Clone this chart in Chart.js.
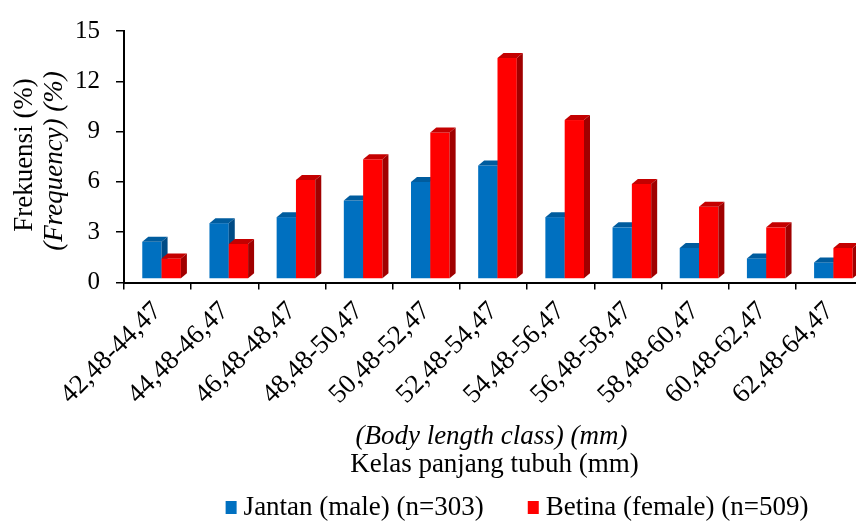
<!DOCTYPE html>
<html>
<head>
<meta charset="utf-8">
<script src="https://cdn.jsdelivr.net/npm/chart.js@4.4.0/dist/chart.umd.min.js"></script>
<style>
  html, body { margin: 0; padding: 0; background: #fff; overflow: hidden; }
  #wrap { width: 866px; height: 525px; }
</style>
</head>
<body>
<div id="wrap"><canvas id="myChart"></canvas></div>
<script>
// classes de longueur (mm)
var kelas = ['42,48-44,47', '44,48-46,47', '46,48-48,47', '48,48-50,47', '50,48-52,47',
             '52,48-54,47', '54,48-56,47', '56,48-58,47', '58,48-60,47', '60,48-62,47', '62,48-64,47'];
// frequences en %
var jantan = [2.22, 3.33, 3.69, 4.68, 5.79, 6.77, 3.69, 3.08, 1.85, 1.23, 0.99];
var betina = [1.23, 2.09, 5.91, 7.14, 8.74, 13.18, 9.48, 5.67, 4.31, 3.08, 1.85];
var yTicks = [0, 3, 6, 9, 12, 15];

var couleurs = ['#0070C0', '#FF0000'];
var couleursDessus = ['#005C9E', '#C40000'];
var couleursCote = ['#004B85', '#A00000'];

var police = '"Liberation Serif", "Times New Roman", serif';

// effet 3D : decalage de la face avant et profondeur
var DECAL_X = 4, DECAL_Y = -3.5;
var PROF_X = 6, PROF_Y = 5;

var barres3d = {
  id: 'barres3d',
  beforeDatasetsDraw: function (chart) {
    var ctx = chart.ctx;
    ctx.save();
    ctx.translate(DECAL_X, DECAL_Y);
    for (var i = 0; i < chart.data.labels.length; i++) {
      chart.data.datasets.forEach(function (ds, d) {
        var bar = chart.getDatasetMeta(d).data[i];
        var g = bar.x - bar.width / 2, dr = bar.x + bar.width / 2;
        var h = bar.y, b = bar.base;
        ctx.fillStyle = couleurs[d];
        ctx.fillRect(g, h, dr - g, b - h);
        ctx.fillStyle = couleursDessus[d];
        ctx.beginPath();
        ctx.moveTo(g, h);
        ctx.lineTo(g + PROF_X, h - PROF_Y);
        ctx.lineTo(dr + PROF_X, h - PROF_Y);
        ctx.lineTo(dr, h);
        ctx.closePath();
        ctx.fill();
        ctx.fillStyle = couleursCote[d];
        ctx.beginPath();
        ctx.moveTo(dr, h);
        ctx.lineTo(dr + PROF_X, h - PROF_Y);
        ctx.lineTo(dr + PROF_X, b - PROF_Y);
        ctx.lineTo(dr, b);
        ctx.closePath();
        ctx.fill();
      });
    }
    ctx.restore();
    return false;
  }
};

var textes = {
  id: 'textes',
  afterDraw: function (chart) {
    var ctx = chart.ctx;
    var ca = chart.chartArea;
    var cx = (ca.left + ca.right) / 2 - 2;
    ctx.save();
    ctx.fillStyle = '#000';
    ctx.textAlign = 'center';
    ctx.textBaseline = 'middle';
    ctx.font = 'italic 27px ' + police;
    ctx.fillText('(Body length class) (mm)', cx, 437);
    ctx.font = '27px ' + police;
    ctx.fillText('Kelas panjang tubuh (mm)', cx + 3, 465);

    // titre axe y
    ctx.save();
    ctx.translate(25, 155);
    ctx.rotate(-Math.PI / 2);
    ctx.fillText('Frekuensi (%)', 0, 0);
    ctx.restore();
    ctx.save();
    ctx.translate(55, 161);
    ctx.rotate(-Math.PI / 2);
    ctx.font = 'italic 27px ' + police;
    ctx.fillText('(Frequency) (%)', 0, 0);
    ctx.restore();

    // legende
    ctx.font = '27px ' + police;
    ctx.textAlign = 'left';
    var ds = chart.data.datasets;
    var largeurs = ds.map(function (d) { return ctx.measureText(d.label).width; });
    var total = 0;
    largeurs.forEach(function (w) { total += 11 + 7 + w; });
    total += 44 * (ds.length - 1);
    var x = 517 - total / 2;
    var y = 507;
    ds.forEach(function (d, k) {
      ctx.fillStyle = couleurs[k];
      ctx.fillRect(x, y - 6, 11, 13);
      ctx.fillStyle = '#000';
      ctx.fillText(d.label, x + 18, y + 1);
      x += 18 + largeurs[k] + 44;
    });
    ctx.restore();
  }
};

var ctx = document.getElementById('myChart').getContext('2d');
var chart = new Chart(ctx, {
  type: 'bar',
  data: {
    labels: kelas,
    datasets: [{
      label: 'Jantan (male) (n=303)',
      backgroundColor: couleurs[0],
      data: jantan
    }, {
      label: 'Betina (female) (n=509)',
      backgroundColor: couleurs[1],
      data: betina
    }]
  },
  options: {
    responsive: true,
    maintainAspectRatio: false,
    animation: false,
    categoryPercentage: 0.575,
    barPercentage: 1,
    layout: { padding: { left: 0, top: 21, right: 3, bottom: 0 } },
    plugins: {
      legend: { display: false },
      tooltip: { enabled: false }
    },
    scales: {
      x: {
        afterFit: function (scale) { scale.height = 242.5; },
        grid: { display: true, drawOnChartArea: false, drawTicks: true, tickLength: 7, color: '#000', lineWidth: 1.5, offset: true },
        border: { color: '#000', width: 2 },
        ticks: { font: { family: police, size: 27 }, color: '#000', maxRotation: 45, minRotation: 45, autoSkip: false, padding: 6 }
      },
      y: {
        min: 0,
        max: 15,
        afterFit: function (scale) { scale.width = 124; },
        afterBuildTicks: function (axis) { axis.ticks = yTicks.map(function (v) { return { value: v }; }); },
        grid: { display: true, drawOnChartArea: false, drawTicks: true, tickLength: 8, color: '#000', lineWidth: 1.5 },
        border: { color: '#000', width: 2 },
        ticks: { font: { family: police, size: 25 }, color: '#000', padding: 16 }
      }
    }
  },
  plugins: [barres3d, textes]
});
</script>
</body>
</html>
